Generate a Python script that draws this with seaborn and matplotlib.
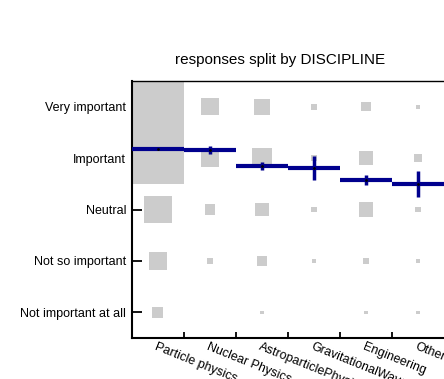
import numpy as np
import pandas as pd
import matplotlib
matplotlib.use("Agg")
import matplotlib.pyplot as plt
import seaborn as sns

disciplines = ["Particle physics", "Nuclear Physics", "AstroparticlePhysics",
               "GravitationalWaves", "Engineering", "Other"]
levels = ["Not important at all", "Not so important", "Neutral", "Important", "Very important"]

# response counts per discipline, ordered as in `levels`
particle = [9, 24, 56, 220, 230]
nuclear = [0, 3, 8, 22, 22]
astro = [1, 7, 14, 31, 18]
grav = [0, 1, 2, 3, 3]
engineering = [1, 3, 15, 15, 6]
other = [1, 1, 2, 5, 1]

# mean answer (0 = not important at all) and its error, per discipline
means = [3.17, 3.155, 2.845, 2.806, 2.58, 2.50]
errors = [0.02, 0.08, 0.08, 0.24, 0.10, 0.26]

counts = [particle, nuclear, astro, grav, engineering, other]
rows = []
for i, d in enumerate(disciplines):
    for j, lv in enumerate(levels):
        rows.append({"discipline": d, "x": i, "level": lv, "y": j, "n": counts[i][j]})
df = pd.DataFrame(rows)
df = df[df["n"] > 0]
df["side"] = np.minimum(0.0716 * np.sqrt(df["n"]), 1.0)

sns.set_style("ticks")
plt.rcParams["font.family"] = ["Liberation Sans", "DejaVu Sans"]
plt.rcParams["text.color"] = "black"
plt.rcParams["xtick.color"] = "black"
plt.rcParams["ytick.color"] = "black"

fig = plt.figure(figsize=(4.44, 3.79), dpi=100)
ax = fig.add_axes([0.297, 0.108, 0.703, 0.678])

ax.bar(df["x"], df["side"], bottom=df["y"] - df["side"] / 2, width=df["side"],
       color="#cccccc", linewidth=0, zorder=1)

xs = np.arange(len(disciplines))
ax.hlines(means, xs - 0.5, xs + 0.5, color="#00008e", lw=3, zorder=3)
ax.errorbar(xs, means, yerr=errors, fmt="none", ecolor="#00008e", elinewidth=2.5, capsize=0, zorder=3)
sns.scatterplot(x=xs, y=means, color="black", s=4, linewidth=0, zorder=4, ax=ax)

ax.set_xlim(-0.5, len(disciplines) - 0.5)
ax.set_ylim(-0.5, len(levels) - 0.5)

ax.set_yticks(range(len(levels)))
ax.set_yticklabels(levels, fontsize=9, color="black")
ax.tick_params(axis="y", direction="in", length=7.5, width=1.3, pad=4)

ax.set_xticks(xs[:-1] + 0.5)
ax.set_xticklabels([])
ax.set_xticks(xs, minor=True)
ax.set_xticklabels(disciplines, minor=True, rotation=-22, ha="left", va="top",
                   rotation_mode="anchor", fontsize=9, color="black")
ax.tick_params(axis="x", which="major", direction="in", length=4.5, width=1.3)
ax.tick_params(axis="x", which="minor", length=0, pad=2)

ax.spines["left"].set_linewidth(1.5)
ax.spines["bottom"].set_linewidth(1.5)
ax.spines["top"].set_linewidth(1.0)
ax.spines["right"].set_visible(False)
for s in ax.spines.values():
    s.set_color("black")
ax.set_xlabel("")
ax.set_ylabel("")
ax.set_title("responses split by DISCIPLINE", fontsize=11, pad=12, color="black", x=0.474)

fig.savefig("out.png", dpi=100)
